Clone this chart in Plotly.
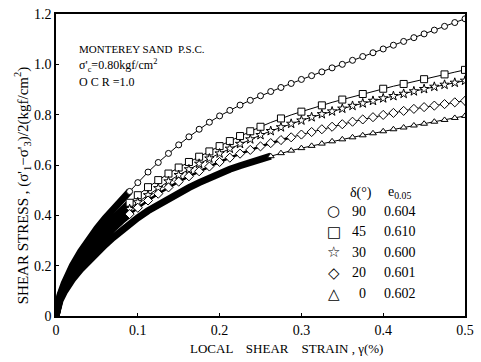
import plotly.graph_objects as go

# ---- data ----
STRAIN = [0, 0.0025, 0.005, 0.01, 0.015, 0.02, 0.03, 0.04, 0.05, 0.06, 0.07, 0.08, 0.09,
          0.1, 0.1125, 0.125, 0.1375, 0.15, 0.1625, 0.175, 0.1875, 0.2, 0.2125, 0.225,
          0.2375, 0.25, 0.2625, 0.275, 0.2875, 0.3, 0.3125, 0.325, 0.3375, 0.35, 0.3625,
          0.375, 0.3875, 0.4, 0.4125, 0.425, 0.4375, 0.45, 0.4625, 0.475, 0.4875, 0.5]

TAU_D90 = [0, 0.055, 0.085, 0.13, 0.168, 0.2, 0.256, 0.305, 0.348, 0.388, 0.425, 0.46, 0.495,
           0.53, 0.572, 0.61, 0.646, 0.68, 0.712, 0.742, 0.77, 0.795, 0.817, 0.838, 0.857,
           0.875, 0.892, 0.908, 0.924, 0.94, 0.955, 0.97, 0.986, 1.0, 1.016, 1.031, 1.046,
           1.061, 1.076, 1.091, 1.106, 1.121, 1.136, 1.151, 1.166, 1.181]

TAU_D45 = [0, 0.052, 0.08, 0.12, 0.153, 0.182, 0.233, 0.278, 0.318, 0.355, 0.39, 0.42, 0.45,
           0.48, 0.512, 0.54, 0.566, 0.59, 0.612, 0.633, 0.654, 0.675, 0.695, 0.715, 0.734,
           0.752, 0.769, 0.785, 0.799, 0.812, 0.825, 0.837, 0.849, 0.86, 0.871, 0.882, 0.893,
           0.903, 0.913, 0.922, 0.932, 0.941, 0.951, 0.96, 0.969, 0.978]

TAU_D30 = [0, 0.048, 0.075, 0.112, 0.143, 0.17, 0.218, 0.259, 0.298, 0.334, 0.367, 0.397, 0.425,
           0.452, 0.48, 0.508, 0.535, 0.56, 0.583, 0.605, 0.626, 0.646, 0.665, 0.684, 0.702,
           0.719, 0.735, 0.75, 0.764, 0.777, 0.79, 0.802, 0.813, 0.824, 0.835, 0.845, 0.855,
           0.865, 0.874, 0.883, 0.893, 0.902, 0.911, 0.919, 0.927, 0.935]

TAU_D20 = [0, 0.045, 0.07, 0.104, 0.132, 0.158, 0.203, 0.243, 0.28, 0.315, 0.348, 0.378, 0.405,
           0.43, 0.459, 0.486, 0.511, 0.534, 0.555, 0.575, 0.594, 0.612, 0.629, 0.645, 0.66,
           0.674, 0.687, 0.699, 0.71, 0.721, 0.731, 0.742, 0.752, 0.762, 0.772, 0.781, 0.79,
           0.799, 0.807, 0.815, 0.823, 0.83, 0.836, 0.842, 0.849, 0.855]

TAU_D0 = [0, 0.04, 0.062, 0.095, 0.122, 0.145, 0.185, 0.22, 0.253, 0.283, 0.312, 0.34, 0.366,
          0.39, 0.418, 0.443, 0.467, 0.489, 0.51, 0.53, 0.549, 0.568, 0.583, 0.597, 0.61,
          0.622, 0.635, 0.647, 0.657, 0.667, 0.676, 0.685, 0.694, 0.702, 0.71, 0.718, 0.726,
          0.734, 0.742, 0.749, 0.757, 0.764, 0.772, 0.779, 0.787, 0.795]

DELTA = ["90", "45", "30", "20", "0"]
E005 = ["0.604", "0.610", "0.600", "0.601", "0.602"]

X_TICKS = [0, 0.1, 0.2, 0.3, 0.4, 0.5]
X_TICK_LABELS = ["0", "0.1", "0.2", "0.3", "0.4", "0.5"]
Y_TICKS = [0, 0.2, 0.4, 0.6, 0.8, 1.0, 1.2]
Y_TICK_LABELS = ["0", "0.2", "0.4", "0.6", "0.8", "1.0", "1.2"]

# ---- styling ----
FONT = "'Liberation Serif', 'Times New Roman', serif"
SERIES = [
    (TAU_D90, "circle", 6, 0.09),
    (TAU_D45, "square", 7, 0.09),
    (TAU_D30, "star", 7, 0.09),
    (TAU_D20, "diamond", 7, 0.09),
    (TAU_D0, "triangle-up", 6, 0.2625),
]
LEGEND_GLYPHS = ["○", "□", "☆", "◇", "△"]

fig = go.Figure()

# dense (heavily overlapping) early portions drawn as solid bands
for ys, sym, size, dense_end in SERIES:
    xd = [x for x in STRAIN if x <= dense_end + 1e-9]
    yd = ys[:len(xd)]
    fig.add_trace(go.Scatter(x=xd, y=yd, mode="lines",
                             line=dict(color="black", width=7),
                             hoverinfo="skip", showlegend=False))

# diamond chain region appears heavier
xdd = [x for x in STRAIN if 0.09 <= x <= 0.2875]
ydd = [y for x, y in zip(STRAIN, TAU_D20) if 0.09 <= x <= 0.2875]
fig.add_trace(go.Scatter(x=xdd, y=ydd, mode="lines",
                         line=dict(color="black", width=2.5),
                         hoverinfo="skip", showlegend=False))

# sparse portions with individual hollow markers
for ys, sym, size, dense_end in SERIES:
    idx = [i for i, x in enumerate(STRAIN) if x >= dense_end - 1e-9]
    xs = [STRAIN[i] for i in idx]
    yv = [ys[i] for i in idx]
    if sym == "square":
        keep = [k for k, x in enumerate(xs) if x < 0.25 or round((x - 0.25) / 0.0125) % 2 == 0]
        mx = [xs[k] for k in keep]
        my = [yv[k] for k in keep]
    else:
        mx, my = xs, yv
    fig.add_trace(go.Scatter(x=xs, y=yv, mode="lines",
                             line=dict(color="black", width=1),
                             hoverinfo="skip", showlegend=False))
    fig.add_trace(go.Scatter(x=mx, y=my, mode="markers",
                             marker=dict(symbol=sym, size=size, color="white",
                                         line=dict(color="black", width=1)),
                             showlegend=False))

W, H = 481, 362
L, R, T, B = 56, 13, 7, 46
PW, PH = W - L - R, H - T - B


def px(xp):
    return (xp - L) / PW


def py(yp):
    return (H - B - yp) / PH


annotations = []
tf = dict(family=FONT, size=11, color="black")
annotations.append(dict(text="MONTEREY SAND  P.S.C.", x=px(77), y=py(43), xref="paper", yref="paper",
                        xanchor="left", yanchor="middle", showarrow=False, font=tf))
annotations.append(dict(text="σ'<sub>c</sub>=0.80kgf/cm<sup>2</sup>", x=px(77), y=py(60), xref="paper",
                        yref="paper", xanchor="left", yanchor="middle", showarrow=False,
                        font=dict(family=FONT, size=12, color="black")))
annotations.append(dict(text="O C R =1.0", x=px(77), y=py(77), xref="paper", yref="paper",
                        xanchor="left", yanchor="middle", showarrow=False,
                        font=dict(family=FONT, size=12, color="black")))

lf = dict(family=FONT, size=14, color="black")
annotations.append(dict(text="δ(°)", x=px(363), y=py(190), xref="paper", yref="paper",
                        xanchor="center", yanchor="middle", showarrow=False, font=lf))
annotations.append(dict(text="e<sub>0.05</sub>", x=px(388), y=py(190), xref="paper", yref="paper",
                        xanchor="left", yanchor="middle", showarrow=False, font=lf))
rows_y = [209, 230, 251, 272, 293]
for g, d, e, ry in zip(LEGEND_GLYPHS, DELTA, E005, rows_y):
    annotations.append(dict(text=g, x=px(336), y=py(ry), xref="paper", yref="paper",
                            xanchor="center", yanchor="middle", showarrow=False,
                            font=dict(family="DejaVu Sans", size=15, color="black")))
    annotations.append(dict(text=d, x=px(370), y=py(ry), xref="paper", yref="paper",
                            xanchor="right", yanchor="middle", showarrow=False, font=lf))
    annotations.append(dict(text=e, x=px(384), y=py(ry), xref="paper", yref="paper",
                            xanchor="left", yanchor="middle", showarrow=False, font=lf))

annotations.append(dict(text="LOCAL    SHEAR    STRAIN , γ(%)", x=px(288), y=py(349), xref="paper",
                        yref="paper", xanchor="center", yanchor="middle", showarrow=False,
                        font=dict(family=FONT, size=13, color="black")))
annotations.append(dict(text="SHEAR STRESS , (σ'<sub>1</sub>−σ'<sub>3</sub>)/2(kgf/cm<sup>2</sup>)",
                        x=px(22), y=py(183), xref="paper", yref="paper", textangle=-90,
                        xanchor="center", yanchor="middle", showarrow=False,
                        font=dict(family=FONT, size=15, color="black")))

axis_common = dict(showline=True, linecolor="black", linewidth=1.5, mirror=True,
                   showgrid=False, zeroline=False, ticks="inside", ticklen=3,
                   tickcolor="black", tickfont=dict(family=FONT, size=14, color="black"))

fig.update_layout(
    width=W, height=H,
    margin=dict(l=L, r=R, t=T, b=B),
    paper_bgcolor="white", plot_bgcolor="white",
    font=dict(family=FONT, color="black"),
    xaxis=dict(range=[0, 0.5], tickvals=X_TICKS, ticktext=X_TICK_LABELS, **axis_common),
    yaxis=dict(range=[0, 1.2], tickvals=Y_TICKS, ticktext=Y_TICK_LABELS, **axis_common),
    annotations=annotations,
    showlegend=False,
)

fig.write_html("out.html")
